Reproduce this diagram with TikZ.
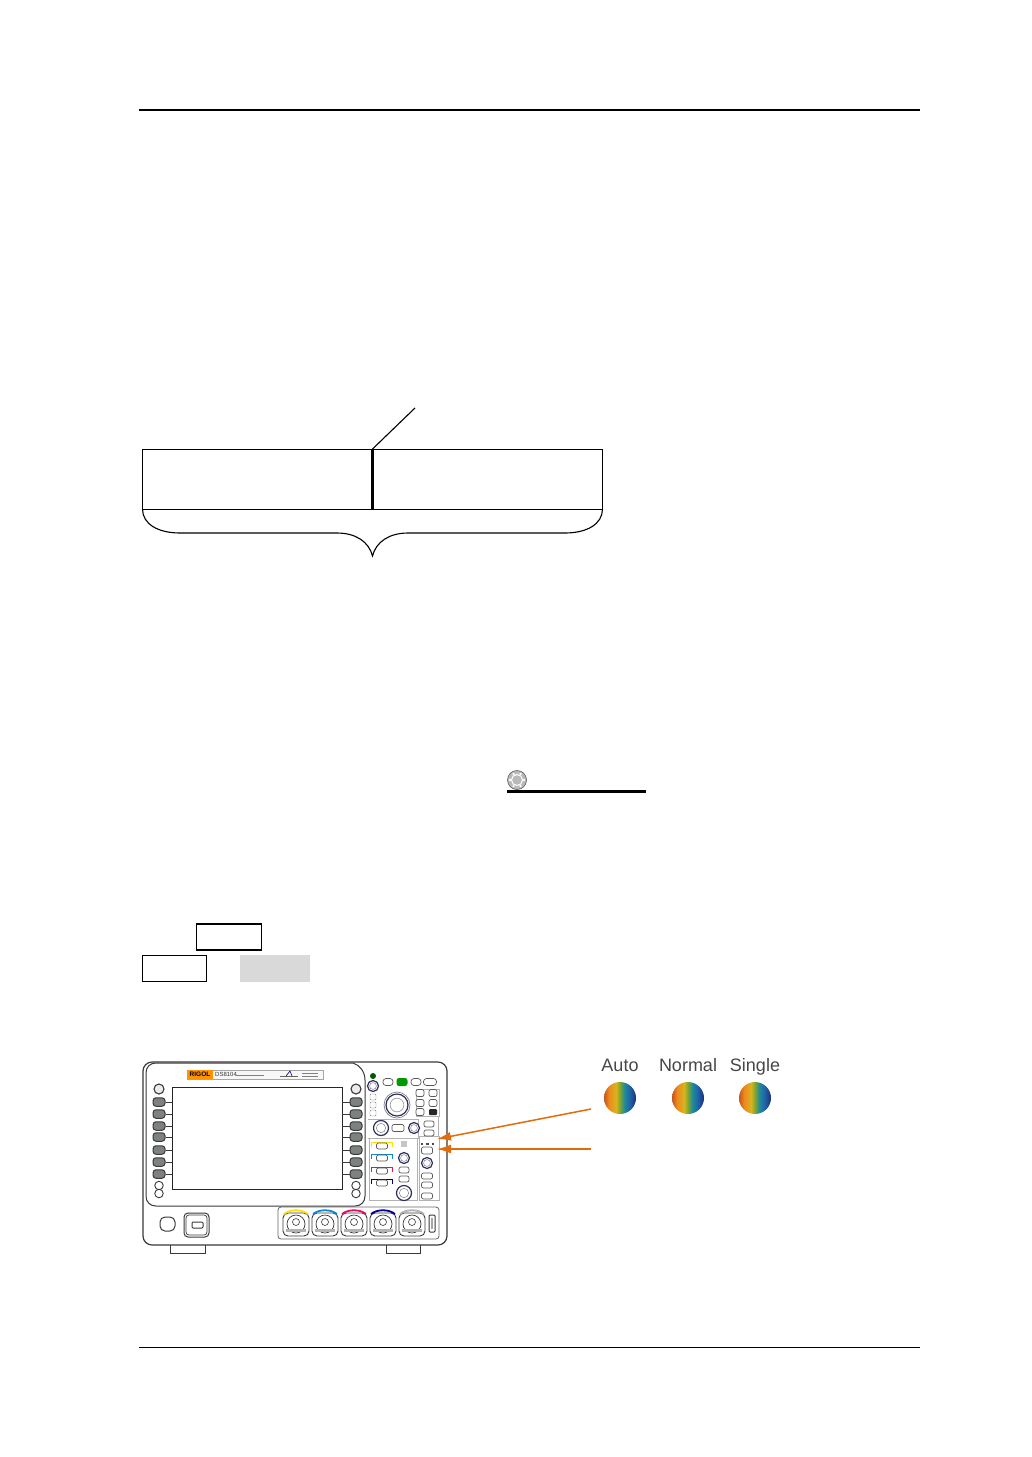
\documentclass[tikz,border=0pt]{standalone}
\usepackage{fontspec}
\setmainfont{Liberation Sans}
\usetikzlibrary{arrows.meta}
\definecolor{arrowor}{HTML}{E36C0A}
\definecolor{keyfill}{HTML}{7E827E}
\definecolor{linegr}{HTML}{3A3A3A}
\definecolor{ledA}{HTML}{C4561E}
\definecolor{ledB}{HTML}{EE8A1E}
\definecolor{ledC}{HTML}{D6B41E}
\definecolor{ledD}{HTML}{7FA530}
\definecolor{ledE}{HTML}{1F8A9C}
\definecolor{ledF}{HTML}{1F5FA8}
\definecolor{ledG}{HTML}{1E2F70}
\pgfdeclarehorizontalshading{ledshade}{100bp}{
 color(0bp)=(ledA);
 color(25bp)=(ledA);
 color(33bp)=(ledB);
 color(44bp)=(ledC);
 color(50bp)=(ledD);
 color(57bp)=(ledE);
 color(66bp)=(ledF);
 color(75bp)=(ledG);
 color(100bp)=(ledG)}
\tikzset{
 rule/.style={line width=1.6pt,black},
 thinrule/.style={line width=.9pt,black},
 pagebox/.style={line width=1.2pt,black},
 body/.style={draw=linegr,line width=1pt},
 panel/.style={draw=gray!60,line width=.6pt},
 softkey/.style={draw=linegr,fill=keyfill,line width=1pt,rounded corners=3pt,minimum width=12pt,minimum height=8.5pt,inner sep=0pt},
 keycap/.style={draw=gray!70!black,fill=white,line width=.7pt,rounded corners=2pt,minimum width=10pt,minimum height=6pt,inner sep=0pt},
 roundkey/.style={draw=linegr,fill=white,circle,line width=.9pt,minimum size=7pt,inner sep=0pt},
 orarrow/.style={draw=arrowor,line width=1.5pt,-{Latex[length=14pt,width=9pt]}},
 ledlabel/.style={font=\fontsize{18}{20}\selectfont,text=black!72,inner sep=0pt,anchor=base},
 led/.style={circle,minimum size=32pt,inner sep=0pt,shading=ledshade},
}
\newcommand{\knobat}[3]{%
 \node[draw=linegr!80!blue,fill=white,circle,line width=1.2pt,minimum size=#3*2pt,inner sep=0pt] (#1) at (#2) {};
 \node[draw=gray,circle,line width=.5pt,minimum size=#3*1.25pt,inner sep=0pt] (#1i) at (#2) {};
}
\newcommand{\bncat}[3]{%
 \draw[draw=linegr,fill=white,line width=.9pt,rounded corners=5pt] (#2-13,1213) rectangle (#2+13,1236);
 \node[draw=linegr,circle,line width=.7pt,minimum size=18pt,inner sep=0pt] (#1) at (#2,1224) {};
 \node[draw=linegr,fill=white,circle,line width=.6pt,minimum size=7pt,inner sep=0pt] (#1i) at (#2,1222) {};
 \fill[gray!60] (#2-10,1229) rectangle (#2+10,1232);
 \draw[#3,line width=1.8pt] (#2-12,1214) .. controls (#2-6,1209) and (#2+6,1209) .. (#2+12,1214);
}
\begin{document}
\begin{tikzpicture}[x=1pt,y=-1pt]
\useasboundingbox (0,0) rectangle (1032,1457);
\fill[white] (0,0) rectangle (1032,1457);
\coordinate (hl) at (139,110); \coordinate (hr) at (920,110);
\coordinate (fl) at (139,1347); \coordinate (fr) at (920,1347);
\draw[rule] (hl) -- (hr);
\draw[thinrule] (fl) -- (fr);
% memory bar
\draw[line width=1pt] (142.5,449) rectangle (602.5,509);
\coordinate (dt) at (372.5,449); \coordinate (db) at (372.5,509); \coordinate (lead) at (415,408);
\draw[line width=3pt] (dt) -- (db);
\draw[line width=1.1pt] (dt) -- (lead);
\draw[line width=1.1pt] (142.5,509) .. controls (142.5,524) and (158,533) .. (180,533)
 -- (337,533) .. controls (356,533) and (369,542) .. (372.5,556)
 .. controls (376,542) and (389,533) .. (408,533)
 -- (565,533) .. controls (587,533) and (602.5,524) .. (602.5,509);
% icon + underlined link
\node[circle,fill=gray!55,draw=gray!70!black,line width=.6pt,minimum size=19pt,inner sep=0pt] (ico) at (517,780) {};
\node[circle,draw=white,line width=1pt,minimum size=11pt,inner sep=0pt] (icoi) at (517,780) {};
\foreach \a in {0,60,...,300} \fill[white] (517,780) ++(\a:7) circle (1.3);
\coordinate (ul) at (507,791.5); \coordinate (ur) at (646,791.5);
\draw[line width=2.2pt] (ul) -- (ur);
% key boxes
\node[draw,pagebox,minimum width=65pt,minimum height=26pt,inner sep=0pt] (k1) at (229,937) {};
\node[draw,pagebox,minimum width=64pt,minimum height=26pt,inner sep=0pt] (k2) at (174.5,968.5) {};
\node[fill=gray!30,minimum width=70pt,minimum height=27pt,inner sep=0pt] (k3) at (275,968.5) {};
% oscilloscope
\draw[body,line width=1.2pt,rounded corners=9pt] (143,1062) -- (447,1062) -- (447,1245) -- (143,1245) -- cycle;
\draw[body] (170,1245) -- (170,1253) -- (205,1253) -- (205,1245);
\draw[body] (386,1245) -- (386,1253) -- (420,1253) -- (420,1245);
% bezel
\draw[body] (156,1063) -- (353,1063) .. controls (360,1065) and (365,1072) .. (365,1080) -- (365,1196)
 .. controls (365,1202) and (361,1206) .. (355,1206) -- (156,1206)
 .. controls (150,1206) and (146,1202) .. (146,1196) -- (146,1073)
 .. controls (146,1067) and (150,1063) .. (156,1063) -- cycle;
% logo strip
\draw[gray!70,fill=gray!6,line width=.6pt] (187,1070) rectangle (323,1079);
\node[fill=orange!85!yellow,minimum width=26pt,minimum height=9pt,inner sep=0pt,font=\bfseries\fontsize{6.5}{7}\selectfont,text=black] (logo) at (200,1074.5) {RIGOL};
\node[anchor=west,inner sep=0pt,font=\fontsize{6}{6}\selectfont,text=black!80] (model) at (215,1074.5) {DS8104};
\draw[gray,line width=.7pt] (236,1075.5) -- (264,1075.5);
\draw[gray!80!black,line width=.7pt] (280,1076) -- (298,1076);
\draw[blue!50!black,line width=.6pt] (286,1076) -- (290,1071) -- (292,1076);
\draw[gray,line width=.5pt] (302,1073) -- (318,1073) (302,1076) -- (318,1076);
% screen
\node[draw=black!85,fill=white,line width=1pt,minimum width=170pt,minimum height=102pt,inner sep=0pt] (screen) at (257,1138) {};
% softkeys
\foreach \n/\y in {1/1102,2/1114,3/1126,4/1137,5/1150,6/1162,7/1174}{
 \node[softkey] (sl\n) at (159,\y) {};
 \node[softkey] (sr\n) at (356,\y) {};
 \draw[linegr,line width=.8pt] (sl\n.east) -- (172,\y);
 \draw[linegr,line width=.8pt] (sr\n.west) -- (342,\y);
}
\foreach \s/\x in {a/159,b/356}{
 \node[roundkey,minimum size=10pt,line width=1.1pt,fill=gray!15] (top\s) at (\x,1089) {};
 \node[roundkey,minimum size=8.5pt] (up\s) at (\x,1185.5) {};
 \node[roundkey,minimum size=8.5pt] (dn\s) at (\x,1193.5) {};
}
% front controls
\draw[body,rounded corners=5pt] (160,1217) rectangle (175,1231);
\draw[body,rounded corners=4pt] (184,1213) rectangle (209,1237);
\draw[body,line width=.7pt,rounded corners=3pt] (186,1215) rectangle (207,1235);
\draw[body,rounded corners=1pt] (192,1222) rectangle (203,1228);
% BNC strip
\draw[panel,draw=gray!80!black,line width=.8pt,rounded corners=3pt] (278,1207) -- (439,1207) -- (439,1239) -- (278,1239) -- cycle;
\bncat{cha}{296}{yellow!85!orange}
\bncat{chb}{325}{cyan!70!blue}
\bncat{chc}{354}{magenta!65!red}
\bncat{chd}{383}{blue!60!black}
\bncat{ext}{412}{gray!60}
\draw[body,rounded corners=1pt] (429,1215) rectangle (435,1232);
\fill[gray!70] (431,1218) rectangle (433,1229);
% control panel frames
\draw[panel] (368,1119) -- (418,1119) -- (418,1138) -- (368,1138);
\draw[panel] (418,1116) -- (438,1116) -- (438,1136) -- (418,1136);
\draw[panel] (369,1138) -- (417,1138) -- (417,1200) -- (369,1200) -- cycle;
\draw[panel] (419,1136) -- (439,1136) -- (439,1200) -- (419,1200) -- cycle;
\draw[panel] (416,1089) rectangle (439,1116);
% top row
\node[circle,fill=green!35!black,minimum size=6pt,inner sep=0pt] (pled) at (373,1076) {};
\knobat{kintens}{373,1086}{5.5}
\node[keycap,minimum width=10pt,minimum height=7pt,rounded corners=3pt] (kclear) at (388,1082) {};
\node[fill=green!60!black,rounded corners=2.5pt,minimum width=11pt,minimum height=8pt,inner sep=0pt] (krun) at (402,1082) {};
\node[keycap,minimum height=7pt,rounded corners=3pt] (ksingle) at (416,1082) {};
\node[keycap,minimum width=13pt,minimum height=7pt,rounded corners=3pt] (kauto) at (430,1082) {};
% navigation
\knobat{kbig}{397,1105}{11}
\draw[gray,line width=.7pt] (397,1105) circle (13);
\foreach \n/\y in {1/1097,2/1105,3/1113}{\node[draw=gray,rounded corners=1pt,minimum size=6pt,inner sep=0pt] (nav\n) at (373,\y) {};}
\foreach \n/\x/\y in {1/420/1093,2/433/1093,3/420/1103,4/433/1103,5/420/1112}{\node[keycap,minimum width=8pt,minimum height=7pt] (mk\n) at (\x,\y) {};}
\node[fill=black!85,rounded corners=1pt,minimum width=8pt,minimum height=6pt,inner sep=0pt] (mk6) at (433,1112) {};
% horizontal
\knobat{khpos}{381,1128}{7.5}
\node[keycap,minimum width=12pt,minimum height=7pt] (khmenu) at (398,1128) {};
\knobat{khscale}{414,1128}{5.5}
\node[keycap] (kh1) at (429,1124) {};
\node[keycap] (kh2) at (429,1133) {};
% vertical
\foreach \n/\y/\c in {1/1145/yellow!85!orange,2/1157/cyan!70!blue,3/1170/magenta!55!red,4/1182/blue!55!black}{
 \draw[\c,line width=.8pt] (371,\y+2) -- (371,\y-3) -- (392,\y-3) -- (392,\y+2);
 \node[keycap,minimum width=11pt] (ch\n) at (382,\y+1) {};
}
\node[fill=gray!45,minimum size=6pt,inner sep=0pt] (grid) at (404,1144) {};
\knobat{kvpos}{404,1158}{5.5}
\node[keycap,minimum width=10pt] (kv1) at (404,1170) {};
\node[keycap,minimum width=10pt] (kv2) at (404,1179) {};
\knobat{kvscale}{404,1193}{7.5}
% trigger
\foreach \n/\x in {1/422,2/427.5,3/433}{\node[fill=black!70,minimum size=2.5pt,inner sep=0pt] (dot\n) at (\x,1144) {};}
\node[keycap,minimum width=11pt,minimum height=7pt] (kmode) at (427,1150.5) {};
\knobat{ktrig}{427,1163}{5.5}
\node[keycap,minimum width=11pt] (kt1) at (427,1176) {};
\node[keycap,minimum width=11pt] (kt2) at (427,1185) {};
\node[keycap,minimum width=11pt] (kt3) at (427,1196) {};
% trigger LEDs
\node[led] (lauto) at (620,1098) {};
\node[led] (lnorm) at (688,1098) {};
\node[led] (lsing) at (755,1098) {};
\node[ledlabel] (tauto) at (620,1071) {Auto};
\node[ledlabel] (tnorm) at (688,1071) {Normal};
\node[ledlabel] (tsing) at (755,1071) {Single};
% arrows
\coordinate (a1s) at (591,1109); \coordinate (a1e) at (437,1139);
\coordinate (a2s) at (591,1149); \coordinate (a2e) at (437,1149);
\draw[orarrow] (a1s) -- (a1e);
\draw[orarrow] (a2s) -- (a2e);
\end{tikzpicture}
\end{document}
